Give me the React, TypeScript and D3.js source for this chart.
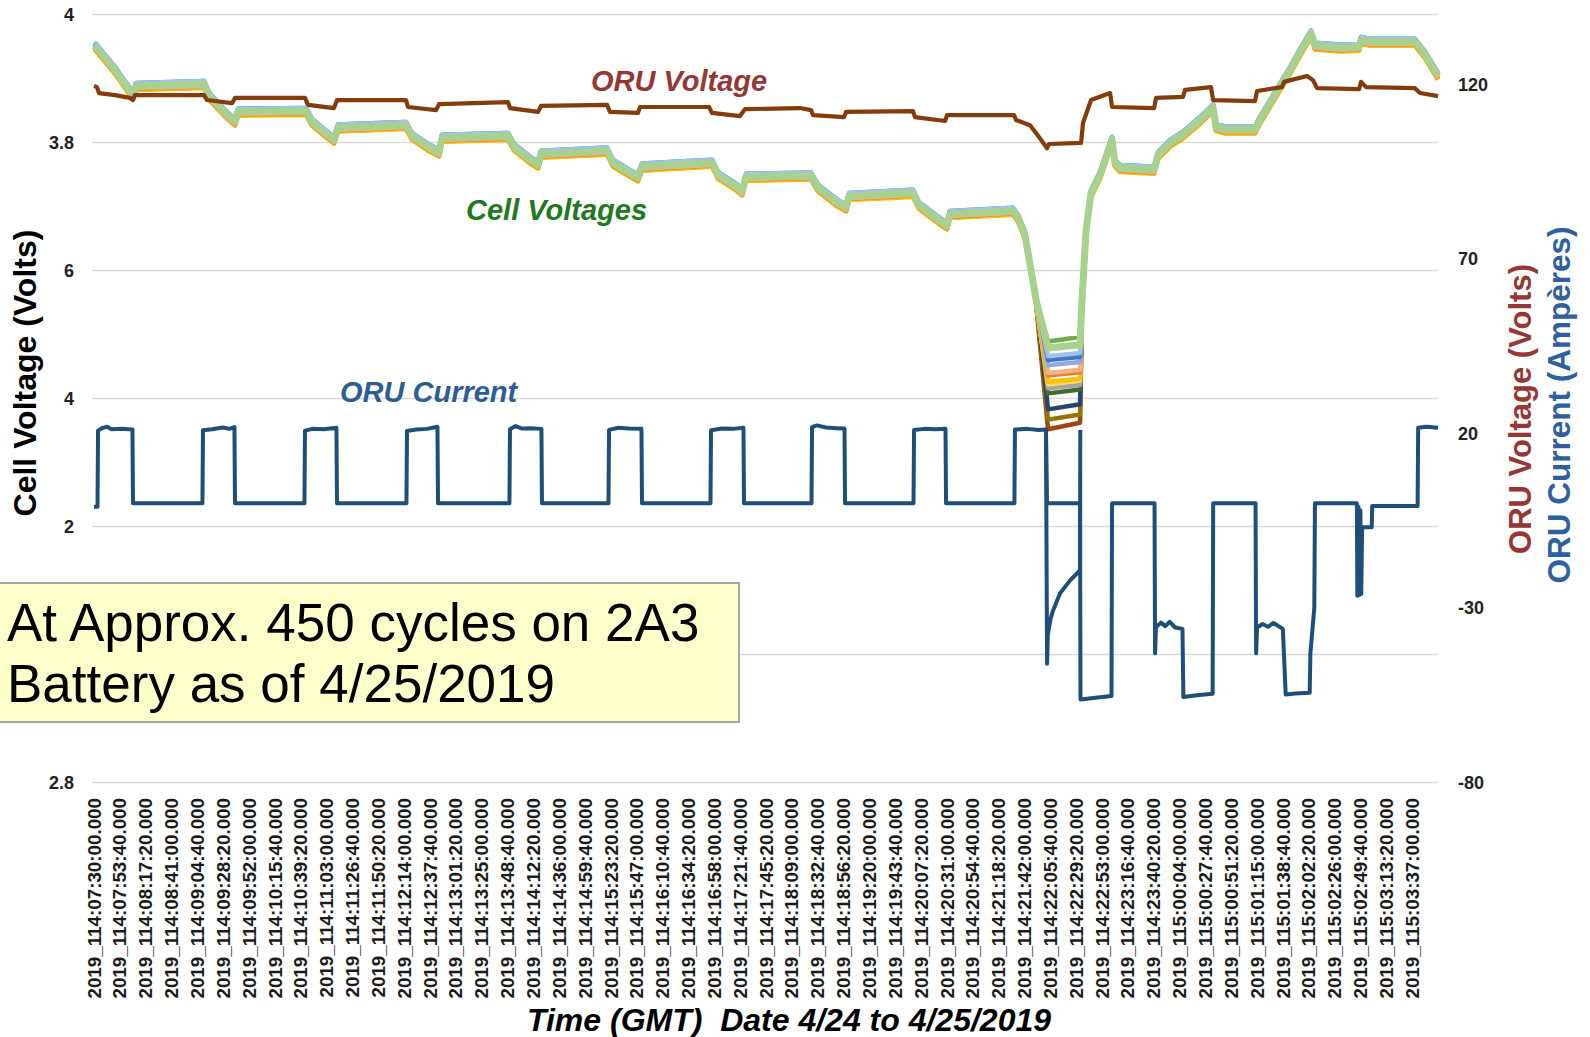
import * as d3 from "d3";

// category labels on the time axis (one every 23 min 40 s)
const X_LABELS = [
  "2019_114:07:30:00.000", "2019_114:07:53:40.000", "2019_114:08:17:20.000", "2019_114:08:41:00.000",
  "2019_114:09:04:40.000", "2019_114:09:28:20.000", "2019_114:09:52:00.000", "2019_114:10:15:40.000",
  "2019_114:10:39:20.000", "2019_114:11:03:00.000", "2019_114:11:26:40.000", "2019_114:11:50:20.000",
  "2019_114:12:14:00.000", "2019_114:12:37:40.000", "2019_114:13:01:20.000", "2019_114:13:25:00.000",
  "2019_114:13:48:40.000", "2019_114:14:12:20.000", "2019_114:14:36:00.000", "2019_114:14:59:40.000",
  "2019_114:15:23:20.000", "2019_114:15:47:00.000", "2019_114:16:10:40.000", "2019_114:16:34:20.000",
  "2019_114:16:58:00.000", "2019_114:17:21:40.000", "2019_114:17:45:20.000", "2019_114:18:09:00.000",
  "2019_114:18:32:40.000", "2019_114:18:56:20.000", "2019_114:19:20:00.000", "2019_114:19:43:40.000",
  "2019_114:20:07:20.000", "2019_114:20:31:00.000", "2019_114:20:54:40.000", "2019_114:21:18:20.000",
  "2019_114:21:42:00.000", "2019_114:22:05:40.000", "2019_114:22:29:20.000", "2019_114:22:53:00.000",
  "2019_114:23:16:40.000", "2019_114:23:40:20.000", "2019_115:00:04:00.000", "2019_115:00:27:40.000",
  "2019_115:00:51:20.000", "2019_115:01:15:00.000", "2019_115:01:38:40.000", "2019_115:02:02:20.000",
  "2019_115:02:26:00.000", "2019_115:02:49:40.000", "2019_115:03:13:20.000", "2019_115:03:37:00.000",
];
const LABEL_STEP = 23 + 40 / 60; // minutes

const LEFT_TICKS = [4.0, 3.8, 3.6, 3.4, 3.2, 3.0, 2.8];
const LEFT_TICK_LABELS = ["4", "3.8", "6", "4", "2", "", "2.8"];
const RIGHT_TICKS = [120, 70, 20, -30, -80];

// shared trace of the cell pack [minutes, volts]; the deep dip is per cell
const cellBand: [number, number][] = [
  [0, 3.951], [1.8, 3.949], [19.2, 3.913], [35.7, 3.873], [38.5, 3.888], [100.7, 3.891],
  [106.2, 3.871], [120, 3.846], [129.1, 3.832], [131.9, 3.848], [194.1, 3.849],
  [199.6, 3.832], [211.5, 3.815], [219.8, 3.804], [223.4, 3.823], [285.7, 3.827],
  [291.2, 3.81], [307.7, 3.791], [315.9, 3.784], [318.7, 3.807], [379.1, 3.81],
  [384.6, 3.793], [399.2, 3.773], [406.6, 3.765], [409.3, 3.782], [469.8, 3.787],
  [475.2, 3.768], [490.8, 3.752], [498.1, 3.745], [501.8, 3.762], [565.9, 3.768],
  [571.4, 3.749], [587, 3.732], [593.4, 3.723], [597, 3.746], [656.6, 3.748],
  [663, 3.729], [681.3, 3.705], [688.6, 3.698], [691.4, 3.716], [749.9, 3.721],
  [755.4, 3.702], [774.7, 3.677], [781.1, 3.67], [783.8, 3.688], [841.5, 3.693],
  [846.1, 3.682], [852.5, 3.655], [858, 3.601], [862.6, 3.554],
  [904.7, 3.554], [908.4, 3.663], [913, 3.721], [921.2, 3.749], [926.7, 3.777],
  [932.2, 3.804], [934.9, 3.768], [939.5, 3.76], [970.7, 3.757], [974.3, 3.78],
  [985.3, 3.799], [997.2, 3.812], [1012.8, 3.835], [1022.8, 3.851], [1024.7, 3.855],
  [1027.4, 3.824], [1035.6, 3.82], [1063.1, 3.82], [1067.7, 3.835], [1081.4, 3.874],
  [1095.2, 3.913], [1104.3, 3.941], [1114.4, 3.97], [1118.1, 3.951], [1141, 3.948],
  [1158.4, 3.949], [1160.2, 3.96], [1168.4, 3.957], [1209.6, 3.957], [1218.8, 3.937],
  [1230.7, 3.904],
];
const DIP_TIMES = [873.6, 902.9];

const cellColors = [
  "#9e480e", "#997300", "#264478", "#43682b", "#a5a5a5", "#ffd966", "#ffc000",
  "#ed7d31", "#f4b183", "#8faadc", "#4472c4", "#9dc3e6", "#70ad47", "#a9d18e",
];
const cellOffsets = [
  -0.004, -0.003, 0.004, -0.005, 0, -0.005, -0.006, -0.004, -0.003, 0.004, 0.005, 0.005, 0.001, 0,
];
const cellDipStart = [
  3.352, 3.367, 3.383, 3.408, 3.416, 3.422, 3.426, 3.436, 3.44, 3.452, 3.46, 3.466, 3.489, 3.479,
];
const cellDipEnd = [
  3.362, 3.375, 3.391, 3.414, 3.421, 3.428, 3.431, 3.441, 3.445, 3.457, 3.465, 3.471, 3.496, 3.484,
];

// ORU voltage [minutes, volts]
const oruVoltage: [number, number][] = [
  [0, 119.5], [2.7, 119.2], [4.6, 117.5], [19.2, 116.9], [33, 116.1], [35.7, 115.5],
  [37.5, 116.9], [100.7, 116.9], [103.5, 115.5], [126.4, 114.6], [129.1, 116.1],
  [193.2, 116.1], [196, 114.1], [219.8, 113.2], [222.5, 115.5], [285.7, 115.5],
  [287.5, 113.5], [313.2, 112.6], [315.9, 114.3], [379.1, 114.9], [380.9, 113.2],
  [406.6, 112.1], [409.3, 113.8], [469.8, 114.1], [472.5, 112.1], [498.1, 111.8],
  [500, 113.5], [563.2, 113.5], [565.9, 111.8], [591.5, 110.9], [596.1, 112.9],
  [646.5, 113.2], [656.6, 112.6], [658.4, 111.2], [686.8, 110.6], [688.6, 112.1],
  [749.9, 112.3], [751.8, 110.6], [779.3, 109.5], [781.1, 111.2], [842.4, 111.2],
  [844.3, 109.8], [857.1, 108.3], [865.3, 104.9], [872.7, 101.7], [874.5, 102.9],
  [903.8, 103.2], [905.6, 108.9], [913, 115.5], [930.4, 117.5], [932.2, 113.5],
  [970.7, 113.2], [972.5, 116.1], [997.2, 116.4], [999, 118.4], [1022.8, 119.2],
  [1024.7, 115.5], [1063.1, 115.2], [1065, 118.1], [1087.8, 119.2], [1089.7, 120.7],
  [1110.7, 122.4], [1116.2, 121.2], [1119.9, 118.9], [1158.4, 118.6], [1160.2, 120.7],
  [1164.8, 119.2], [1209.6, 118.9], [1214.2, 117.5], [1230.7, 116.6],
];

// ORU current [minutes, amperes]
const oruCurrent: [number, number][] = [
  [0, -1], [3.2, -1], [3.7, 20.8], [8, 21.6], [12, 21.9], [16, 21.2], [25, 21.3], [35.2, 21.1], [35.7, 0],
  [99.3, 0], [99.8, 20.9], [108, 21.2], [118, 21.7], [124, 21.3], [128.6, 21.8], [129.1, 0],
  [192.7, 0], [193.2, 20.8], [200, 21.3], [210, 21.2], [222, 21.6], [222.5, 0],
  [286.1, 0], [286.6, 20.7], [295, 21.1], [305, 21.3], [314.5, 21.9], [315, 0],
  [380.4, 0], [380.9, 21.2], [386, 22.1], [392, 21.4], [400, 21.5], [409.7, 21.3], [410.2, 0],
  [471.1, 0], [471.6, 21.0], [480, 21.6], [490, 21.4], [501.3, 21.3], [501.8, 0],
  [564.5, 0], [565, 20.9], [575, 21.4], [585, 21.3], [594.7, 21.6], [595.2, 0],
  [657, 0], [657.5, 21.8], [662, 22.3], [670, 21.7], [680, 21.5], [687.2, 21.4], [687.7, 0],
  [750.4, 0], [750.9, 21.0], [760, 21.3], [770, 21.2], [779.7, 21.3], [780.2, 0],
  [842.8, 0], [843.3, 21.1], [855, 21.3], [865, 21.0], [871.7, 21.1], [872.6, 0],
  [902.9, 0], [903.3, -56.2], [915, -55.8], [931.7, -55.2], [932.2, 0],
  [971.1, 0], [971.6, -43], [972.4, -35.5], [977, -34.2], [981, -35.2], [985, -34], [990, -35.6],
  [996.7, -36], [997.5, -55.5], [1010, -55], [1024.3, -54.6], [1024.8, 0],
  [1063.6, 0], [1064.1, -43], [1065, -35.6], [1070, -34.6], [1075, -35.4], [1080, -34.3],
  [1088.6, -36], [1091.2, -54.8], [1100, -54.5], [1113.2, -54.3], [1113.8, -43], [1117.4, -30], [1118, 0],
  [1156.4, 0], [1156.8, -26.5], [1157.8, -1], [1158.6, -26.3], [1159.6, -2], [1160.4, -26],
  [1161.2, -6.9], [1170, -6.9], [1170.4, -0.8], [1212, -0.8], [1212.5, 21.6], [1220, 21.9], [1230.7, 21.6],
];
// discharge transient during the deep dip
const oruCurrentDip: [number, number][] = [
  [871.7, 21.1], [872.7, -46], [873.4, -37.5], [876, -33], [878.2, -30.7], [884.6, -25.8],
  [893.8, -22.1], [902.9, -19.2], [903.1, 21],
];

const FONT = "'Liberation Sans', Arial, sans-serif";

export default function App() {
  const width = 1590;
  const height = 1037;
  const plot = { left: 94, right: 1438, top: 14.5, bottom: 782.5 };

  const x = d3
    .scaleLinear()
    .domain([0, X_LABELS.length * LABEL_STEP])
    .range([plot.left, plot.right]);
  const yCell = d3.scaleLinear().domain([2.8, 4.0]).range([plot.bottom, plot.top]);
  const yRight = d3.scaleLinear().domain([-80, 140]).range([plot.bottom, plot.top]);

  const cellLine = d3
    .line<[number, number]>()
    .x((d) => x(d[0]))
    .y((d) => yCell(d[1]));
  const rightLine = d3
    .line<[number, number]>()
    .x((d) => x(d[0]))
    .y((d) => yRight(d[1]));

  // build each cell's trace: shared band + its own dip plateau
  const cells = cellColors.map((color, i) => {
    const before = cellBand
      .filter((d) => d[0] < DIP_TIMES[0])
      .map((d) => [d[0], d[1] + cellOffsets[i]] as [number, number]);
    const after = cellBand
      .filter((d) => d[0] > DIP_TIMES[1])
      .map((d) => [d[0], d[1] + cellOffsets[i]] as [number, number]);
    const pts: [number, number][] = [
      ...before,
      [DIP_TIMES[0], cellDipStart[i]],
      [DIP_TIMES[1], cellDipEnd[i]],
      ...after,
    ];
    return { color, pts, top: i === cellColors.length - 1 };
  });

  return (
    <svg
      width={width}
      height={height}
      style={{ position: "absolute", left: 0, top: 0, background: "#fff" }}
      fontFamily={FONT}
    >
      {/* grid */}
      {LEFT_TICKS.map((t) => (
        <line
          key={"g" + t}
          x1={plot.left - 2}
          x2={plot.right}
          y1={yCell(t)}
          y2={yCell(t)}
          stroke="#d9d9d9"
          strokeWidth={1.5}
        />
      ))}

      {/* left ticks */}
      {LEFT_TICKS.map((t, i) => (
        <text
          key={"l" + t}
          x={74}
          y={yCell(t)}
          dy="0.35em"
          textAnchor="end"
          fontSize={18}
          fontWeight="bold"
          fill="#222"
        >
          {LEFT_TICK_LABELS[i]}
        </text>
      ))}

      {/* right ticks */}
      {RIGHT_TICKS.map((t) => (
        <text
          key={"r" + t}
          x={1458}
          y={yRight(t)}
          dy="0.35em"
          fontSize={18}
          fontWeight="bold"
          fill="#222"
        >
          {t}
        </text>
      ))}

      {/* x labels */}
      {X_LABELS.map((lab, i) => {
        const cx = x(i * LABEL_STEP);
        return (
          <text
            key={lab}
            transform={`translate(${cx},798) rotate(-90)`}
            dy="0.35em"
            textAnchor="end"
            fontSize={18.8}
            fontWeight="bold"
            fill="#1a1a1a"
          >
            {lab}
          </text>
        );
      })}

      {/* cell voltages */}
      {cells.map((c, i) => (
        <path
          key={"c" + i}
          d={cellLine(c.pts) || ""}
          fill="none"
          stroke={c.color}
          strokeWidth={c.top ? 7 : 4.5}
          strokeLinejoin="round"
        />
      ))}

      {/* ORU voltage */}
      <path
        d={rightLine(oruVoltage) || ""}
        fill="none"
        stroke="#843c0c"
        strokeWidth={4.2}
        strokeLinejoin="round"
      />

      {/* ORU current */}
      <path
        d={rightLine(oruCurrent) || ""}
        fill="none"
        stroke="#1f4e79"
        strokeWidth={4}
        strokeLinejoin="round"
      />
      <path
        d={rightLine(oruCurrentDip) || ""}
        fill="none"
        stroke="#1f4e79"
        strokeWidth={4}
        strokeLinejoin="round"
      />

      {/* series labels */}
      <text x={591} y={91} fontSize={29} fontWeight="bold" fontStyle="italic" fill="#953735">
        ORU Voltage
      </text>
      <text x={466} y={220} fontSize={29} fontWeight="bold" fontStyle="italic" fill="#217821">
        Cell Voltages
      </text>
      <text x={340} y={402} fontSize={29} fontWeight="bold" fontStyle="italic" fill="#2e5d94">
        ORU Current
      </text>

      {/* axis titles */}
      <text
        transform="translate(36,373) rotate(-90)"
        textAnchor="middle"
        fontSize={32}
        fontWeight="bold"
        fill="#000"
      >
        Cell Voltage (Volts)
      </text>
      <text
        transform="translate(1531,409) rotate(-90)"
        textAnchor="middle"
        fontSize={31}
        fontWeight="bold"
        fill="#953735"
      >
        ORU Voltage (Volts)
      </text>
      <text
        transform="translate(1570,405) rotate(-90)"
        textAnchor="middle"
        fontSize={31.5}
        fontWeight="bold"
        fill="#2e5f9e"
      >
        ORU Current (Ampères)
      </text>
      <text
        x={789}
        y={1031}
        textAnchor="middle"
        fontSize={32}
        fontWeight="bold"
        fontStyle="italic"
        fill="#000"
        style={{ whiteSpace: "pre" }}
      >
        {"Time (GMT)  Date 4/24 to 4/25/2019"}
      </text>

      {/* annotation */}
      <rect x={-2} y={583} width={741} height={139} fill="#ffffcc" stroke="#a6a6a6" strokeWidth={2} />
      <text x={7} y={641} fontSize={53} fill="#000">
        At Approx. 450 cycles on 2A3
      </text>
      <text x={7} y={702} fontSize={53} fill="#000">
        Battery as of 4/25/2019
      </text>
    </svg>
  );
}
